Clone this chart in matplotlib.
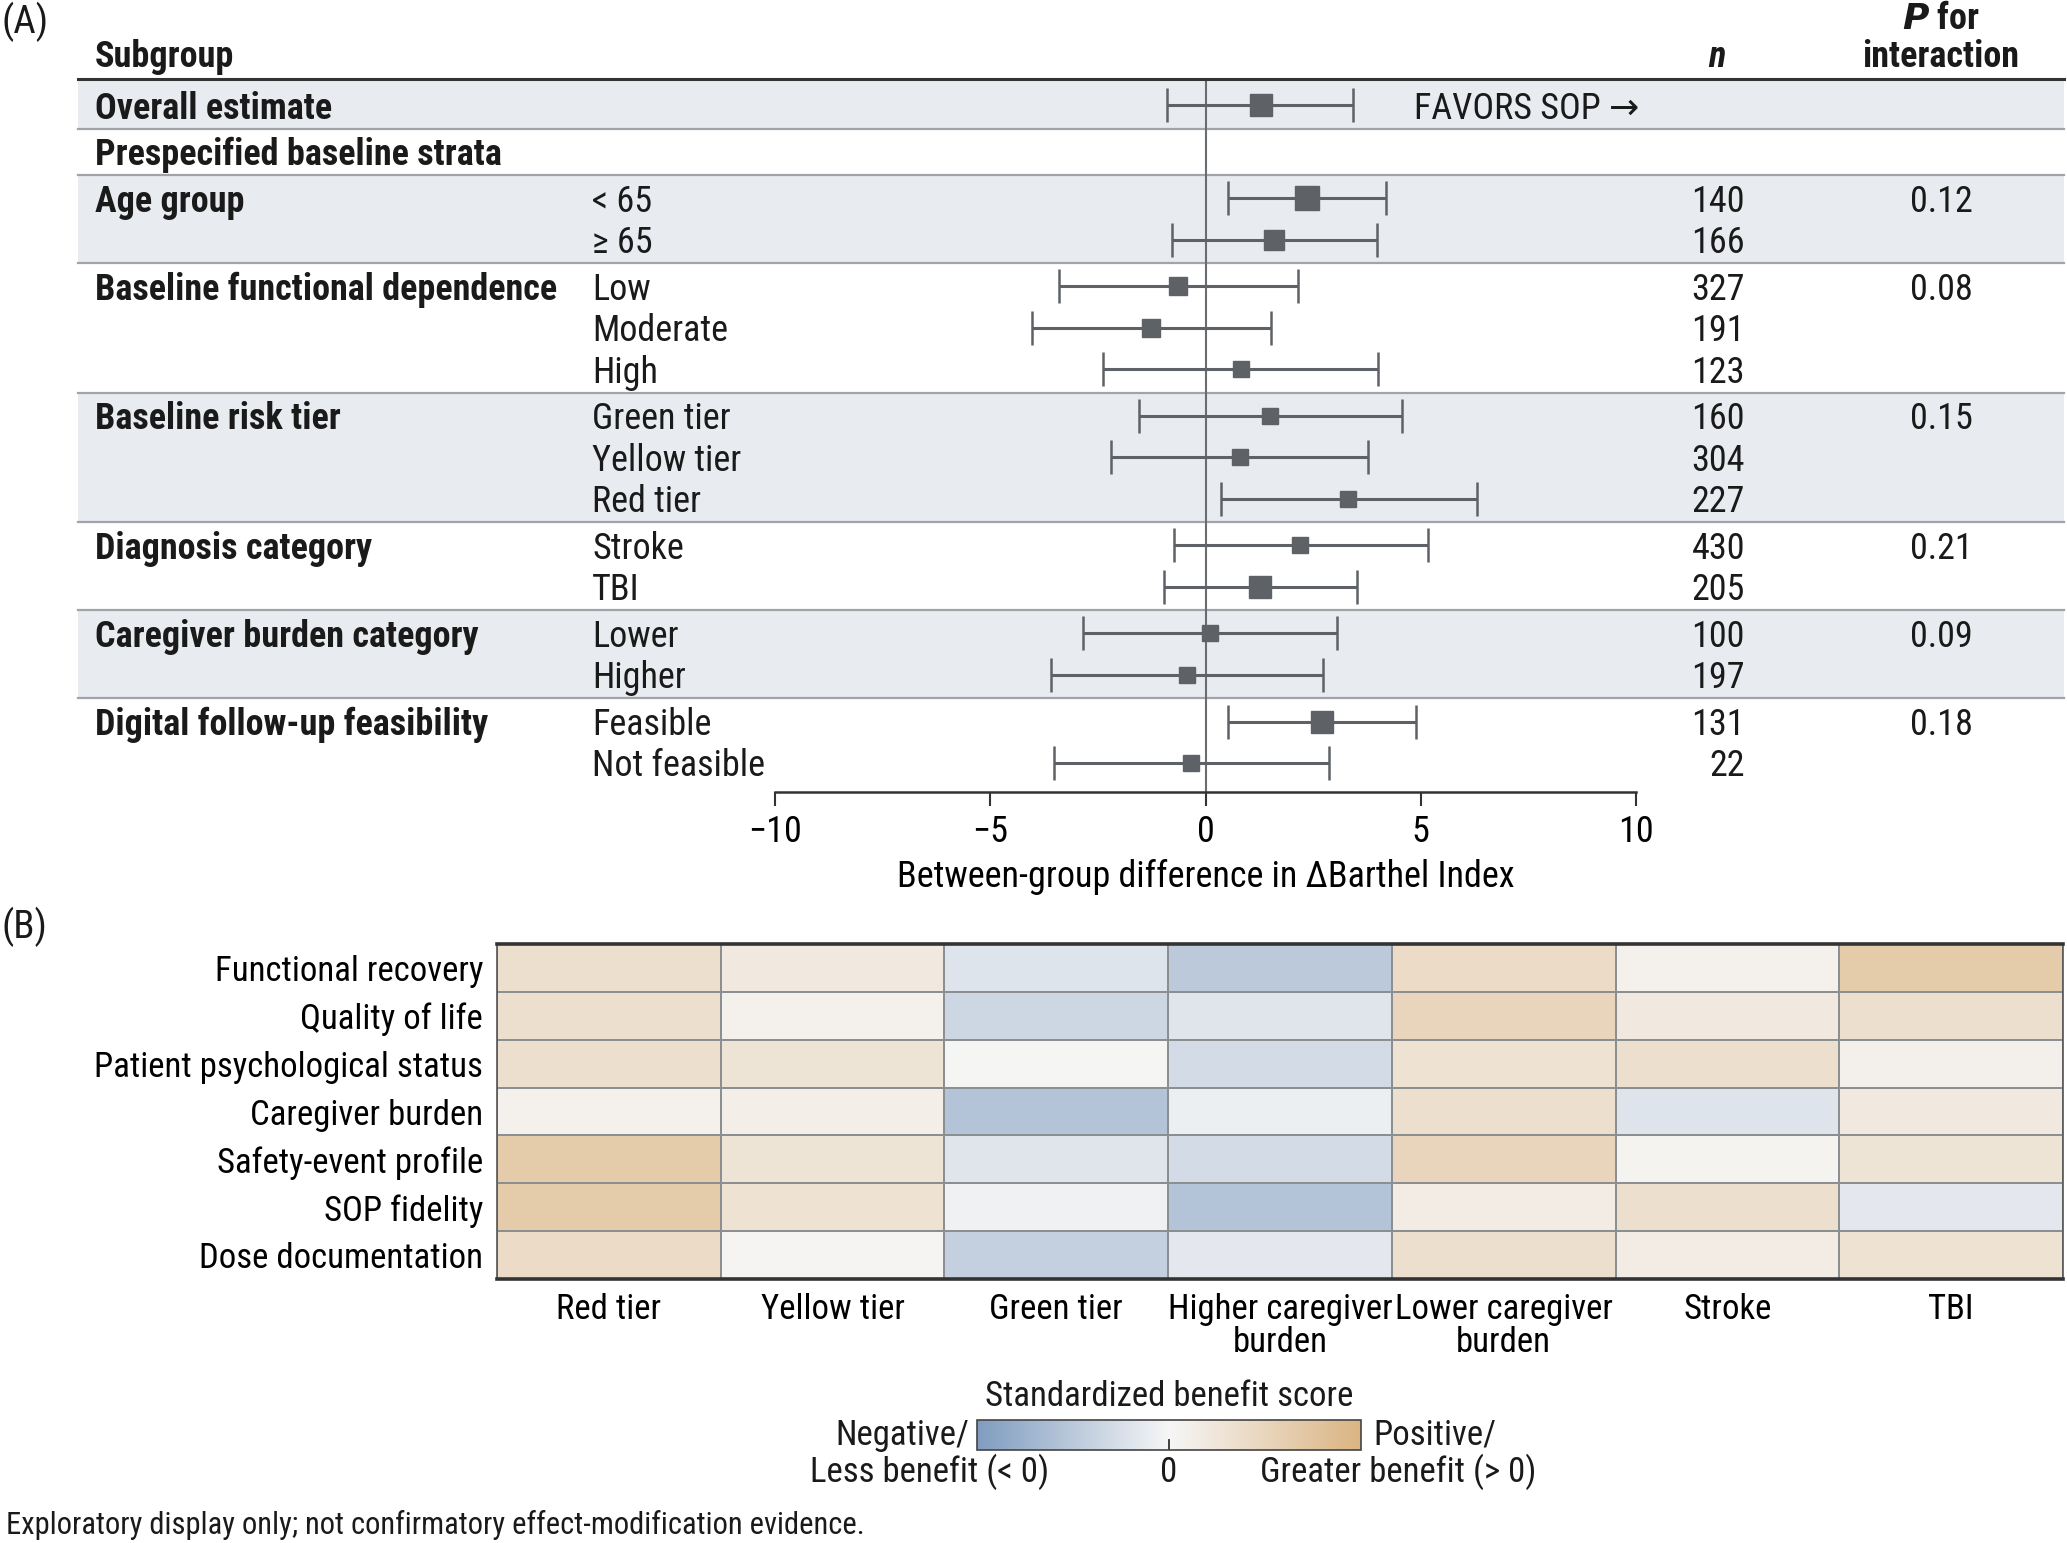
import numpy as np
import matplotlib
matplotlib.use('Agg')
import matplotlib.pyplot as plt
from matplotlib import font_manager
from matplotlib.transforms import blended_transform_factory
from matplotlib.colors import LinearSegmentedColormap
from matplotlib.patches import Rectangle

# ---------------- data ----------------
overall_label = "Overall estimate"
prespec_label = "Prespecified baseline strata"
overall_est, overall_lo, overall_hi = 1.28, -0.89, 3.42

group_names = ["Age group", "Baseline functional dependence", "Baseline risk tier",
               "Diagnosis category", "Caregiver burden category", "Digital follow-up feasibility"]
group_levels = [["< 65", "\u2265 65"], ["Low", "Moderate", "High"],
                ["Green tier", "Yellow tier", "Red tier"], ["Stroke", "TBI"],
                ["Lower", "Higher"], ["Feasible", "Not feasible"]]
p_interaction = ["0.12", "0.08", "0.15", "0.21", "0.09", "0.18"]
n_values = [140, 166, 327, 191, 123, 160, 304, 227, 430, 205, 100, 197, 131, 22]
estimates = [2.36, 1.60, -0.63, -1.27, 0.82, 1.50, 0.79, 3.32, 2.20, 1.27, 0.11, -0.43, 2.71, -0.33]
ci_low = [0.52, -0.78, -3.40, -4.02, -2.37, -1.55, -2.20, 0.35, -0.74, -0.97, -2.85, -3.58, 0.52, -3.53]
ci_high = [4.19, 3.99, 2.15, 1.52, 4.00, 4.56, 3.78, 6.30, 5.16, 3.51, 3.05, 2.72, 4.89, 2.86]
x_ticks = [-10, -5, 0, 5, 10]
x_label = "Between-group difference in \u0394Barthel Index"

outcomes = ["Functional recovery", "Quality of life", "Patient psychological status",
            "Caregiver burden", "Safety-event profile", "SOP fidelity", "Dose documentation"]
strata = ["Red tier", "Yellow tier", "Green tier", "Higher caregiver\nburden",
          "Lower caregiver\nburden", "Stroke", "TBI"]
benefit_functional = [0.35, 0.20, -0.20, -0.50, 0.40, 0.08, 0.65]
benefit_qol = [0.35, 0.08, -0.35, -0.18, 0.50, 0.20, 0.35]
benefit_psych = [0.35, 0.28, 0.02, -0.30, 0.30, 0.35, 0.10]
benefit_caregiver = [0.08, 0.12, -0.55, -0.08, 0.35, -0.20, 0.20]
benefit_safety = [0.65, 0.28, -0.18, -0.30, 0.50, 0.05, 0.28]
benefit_fidelity = [0.65, 0.30, -0.05, -0.55, 0.15, 0.35, -0.15]
benefit_dose = [0.40, 0.03, -0.42, -0.15, 0.35, 0.15, 0.30]

# ---------------- fonts ----------------
names = {f.name for f in font_manager.fontManager.ttflist}
cond = next((n for n in ['Liberation Sans Narrow', 'Roboto Condensed', 'Open Sans Condensed',
                         'Liberation Sans'] if n in names), 'DejaVu Sans')
plt.rcParams['font.family'] = [cond, 'DejaVu Sans']
FS = 26
TXT = '#1a1a1a'
plt.rcParams['text.color'] = TXT

W, H = 2067, 1543
fig = plt.figure(figsize=(W / 100, H / 100), dpi=100)

def fx(px):
    return px / W

def fy(py):
    return 1 - py / H

# ---------------- panel A ----------------
row_unit = 31.5 * 1.318  # px per row
y_top_px, y_bot_px = 79, 792
y0_px = 105.4  # center of overall row
ylim_top = (y_top_px - y0_px) / row_unit
ylim_bot = (y_bot_px - y0_px) / row_unit
toff = 0.08  # small downward text offset (row units)

ax = fig.add_axes([fx(775), fy(y_bot_px), fx(1636) - fx(775), (y_bot_px - y_top_px) / H])
ax.set_facecolor('none')
ax.set_xlim(-10, 10)
ax.set_ylim(ylim_bot, ylim_top)
blend = blended_transform_factory(fig.transFigure, ax.transData)

gap = 0.12
y = 0.0
overall_y = y
y += 1 + gap
prespec_y = y
y += 1 + gap
level_y = []
group_y = []
for levels in group_levels:
    group_y.append(y)
    for _ in levels:
        level_y.append(y)
        y += 1
    y += gap

blocks = [(ylim_top, overall_y + 0.5 + gap / 2, True),
          (overall_y + 0.5 + gap / 2, prespec_y + 0.5 + gap / 2, False)]
prev = prespec_y + 0.5 + gap / 2
for gi, levels in enumerate(group_levels):
    end = group_y[gi] + len(levels) - 0.5 + gap / 2
    if gi == len(group_levels) - 1:
        end = ylim_bot
    blocks.append((prev, end, gi % 2 == 0))
    prev = end

band_x0, band_x1 = fx(78), fx(2064)
for top, bot, shaded in blocks:
    if shaded:
        ax.add_patch(Rectangle((band_x0, top), band_x1 - band_x0, bot - top, transform=blend,
                               facecolor='#e8ecf0', edgecolor='none', zorder=0, clip_on=False))
for top, bot, shaded in blocks[1:]:
    ax.plot([band_x0, band_x1], [top, top], transform=blend, color='#a0a4a8', lw=1.6,
            clip_on=False, zorder=1)
ax.plot([band_x0, band_x1], [ylim_top, ylim_top], transform=blend, color='#333333', lw=2.2,
        clip_on=False, zorder=3)

ax.axvline(0, color='#6a6d70', lw=1.5, zorder=2)

mark_col = '#5e6266'
def draw_est(est, lo, hi, yy):
    w = hi - lo
    ms = float(np.clip(70.0 / w, 11.5, 17.5))
    ax.errorbar([est], [yy], xerr=[[est - lo], [hi - est]], fmt='none', ecolor=mark_col,
                elinewidth=2.2, capsize=12, capthick=1.8, zorder=4)
    ax.plot([est], [yy], marker='s', ms=ms, color=mark_col, mec=mark_col, zorder=5)

draw_est(overall_est, overall_lo, overall_hi, overall_y)
for e, lo, hi, yy in zip(estimates, ci_low, ci_high, level_y):
    draw_est(e, lo, hi, yy)

x_sub, x_lvl, x_n, x_p = fx(95), fx(592), fx(1745), fx(1941)
ax.text(x_sub, overall_y + toff, overall_label, transform=blend, fontsize=FS, fontweight='bold', va='center')
ax.text(x_sub, prespec_y + toff, prespec_label, transform=blend, fontsize=FS, fontweight='bold', va='center')
ax.text(fx(1414), overall_y + toff, "FAVORS SOP \u2192", transform=blend, fontsize=FS, va='center')
k = 0
for gi, levels in enumerate(group_levels):
    ax.text(x_sub, group_y[gi] + toff, group_names[gi], transform=blend, fontsize=FS,
            fontweight='bold', va='center')
    ax.text(x_p, group_y[gi] + toff, p_interaction[gi], transform=blend, fontsize=FS,
            va='center', ha='center')
    for lv in levels:
        ax.text(x_lvl, level_y[k] + toff, lv, transform=blend, fontsize=FS, va='center')
        ax.text(x_n, level_y[k] + toff, str(n_values[k]), transform=blend, fontsize=FS,
                va='center', ha='right')
        k += 1

fig.text(fx(95), fy(57), "Subgroup", fontsize=FS, fontweight='bold', va='center')
fig.text(fx(1717), fy(57), "n", fontsize=FS, fontstyle='italic', fontweight='bold', va='center', ha='center')
fig.text(fx(1941), fy(19), r"$\bfit{P}$" + " for", fontsize=FS, fontweight='bold', va='center', ha='center')
fig.text(fx(1941), fy(57), "interaction", fontsize=FS, fontweight='bold', va='center', ha='center')
fig.text(fx(2), fy(22), "(A)", fontsize=FS + 2, va='center')

for s in ['top', 'left', 'right']:
    ax.spines[s].set_visible(False)
ax.spines['bottom'].set_color('#333333')
ax.spines['bottom'].set_linewidth(1.8)
ax.set_yticks([])
ax.set_xticks(x_ticks)
ax.tick_params(axis='x', length=10, width=1.5, color='#333333', labelsize=FS, pad=6)
ax.set_xlabel(x_label, fontsize=FS, labelpad=6)

# ---------------- panel B ----------------
FSB = FS - 1
fig.text(fx(2), fy(927), "(B)", fontsize=FS + 2, va='center')
benefit = np.array([benefit_functional, benefit_qol, benefit_psych, benefit_caregiver,
                    benefit_safety, benefit_fidelity, benefit_dose])
cmap = LinearSegmentedColormap.from_list('bt', ['#7f9cc0', '#f6f6f6', '#dbb482'])
ax2 = fig.add_axes([fx(497), fy(1279), fx(2063) - fx(497), (1279 - 944) / H])
mesh = ax2.pcolormesh(benefit, cmap=cmap, vmin=-1, vmax=1, edgecolors='#8c8f92', linewidth=1.4)
ax2.set_xlim(0, len(strata))
ax2.set_ylim(len(outcomes), 0)
ax2.set_xticks(np.arange(len(strata)) + 0.5)
ax2.set_xticklabels(strata, fontsize=FSB, linespacing=1.0)
ax2.set_yticks(np.arange(len(outcomes)) + 0.5)
ax2.set_yticklabels(outcomes, fontsize=FSB)
ax2.tick_params(length=0, pad=10)
for s in ['top', 'bottom']:
    ax2.spines[s].set_linewidth(2.6)
    ax2.spines[s].set_color('#333333')
for s in ['left', 'right']:
    ax2.spines[s].set_linewidth(1.2)
    ax2.spines[s].set_color('#555555')

cax = fig.add_axes([fx(977), fy(1450), fx(1361) - fx(977), 30 / H])
cb = fig.colorbar(mesh, cax=cax, orientation='horizontal', ticks=[])
cb.outline.set_edgecolor('#444444')
cb.outline.set_linewidth(1.2)
cax.axvline(0, ymin=0, ymax=0.35, color='#333333', lw=1.3)
fig.text(fx(1169), fy(1397), "Standardized benefit score", fontsize=FSB, ha='center', va='center')
fig.text(fx(969), fy(1435), "Negative/", fontsize=FSB, ha='right', va='center')
fig.text(fx(930), fy(1472), "Less benefit (< 0)", fontsize=FSB, ha='center', va='center')
fig.text(fx(1169), fy(1472), "0", fontsize=FSB, ha='center', va='center')
fig.text(fx(1373), fy(1435), "Positive/", fontsize=FSB, ha='left', va='center')
fig.text(fx(1398), fy(1472), "Greater benefit (> 0)", fontsize=FSB, ha='center', va='center')

fig.text(fx(6), fy(1525), "Exploratory display only; not confirmatory effect-modification evidence.",
         fontsize=FS - 4, va='center')

fig.savefig('out.png', dpi=100, facecolor='white')
